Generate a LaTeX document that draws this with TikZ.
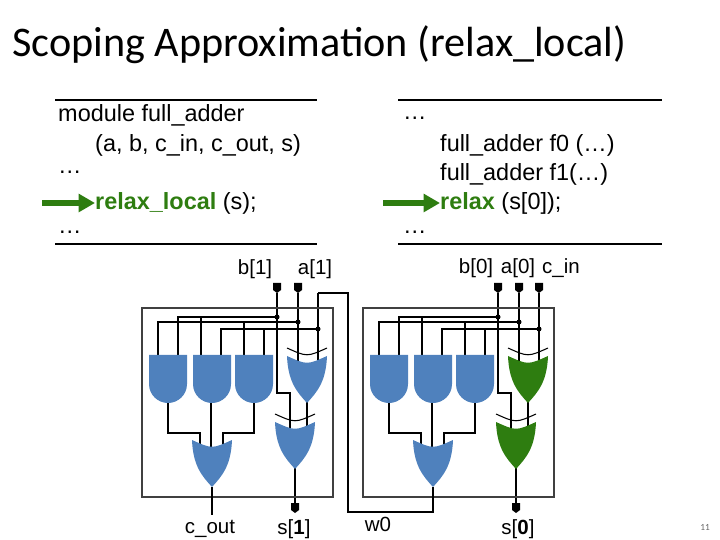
\documentclass[tikz,border=0pt]{standalone}
\usepackage{fontspec}
\setmainfont{Liberation Sans}
\newfontfamily\titlefont{Carlito}
\usetikzlibrary{arrows.meta}

\definecolor{gateblue}{RGB}{79,129,189}
\definecolor{gategreen}{RGB}{46,125,16}

% gate shapes, corner at (#1,#2), fill colour #3
\newcommand{\andgate}[3]{%
  \draw[gate, fill=#3] (#1,#2) -- ({#1+38},#2) -- ({#1+38},{#2+29})
    .. controls ({#1+38},{#2+40}) and ({#1+29},{#2+48}) .. ({#1+19},{#2+48})
    .. controls ({#1+9},{#2+48}) and (#1,{#2+40}) .. (#1,{#2+29}) -- cycle;}
\newcommand{\orgate}[3]{%
  \draw[gate, fill=#3] (#1,#2) .. controls ({#1+20},{#2+9}) .. ({#1+40},#2)
    .. controls ({#1+39},{#2+26}) and ({#1+30},{#2+36}) .. ({#1+20},{#2+47})
    .. controls ({#1+10},{#2+36}) and ({#1+1},{#2+26}) .. (#1,#2);}
\newcommand{\xorgate}[3]{%
  \orgate{#1}{#2}{#3}
  \draw[wire] (#1,{#2-8}) .. controls ({#1+20},{#2+1}) .. ({#1+40},{#2-8});}
\newcommand{\pin}[2]{%
  \fill ({#1-4},#2) -- ({#1+4},#2) -- ({#1+4},{#2+7}) -- (#1,{#2+10}) -- ({#1-4},{#2+7}) -- cycle;}

% one full adder, xor colour #1
\newcommand{\adder}[1]{%
  \draw[wire] (277,293) -- (277,393) -- (290,393) -- (290,432);
  \draw[wire] (298,293) -- (298,370);
  \draw[wire] (318,293) -- (318,370);
  \draw[wire] (307,400) -- (307,432);
  \draw[wire] (295,466) -- (295,503);
  \draw[wire] (277,317) -- (178,317) -- (178,360);
  \draw[wire] (298,322) -- (158,322) -- (158,360);
  \draw[wire] (318,329) -- (221,329) -- (221,360);
  \draw[wire] (201,317) -- (201,360);
  \draw[wire] (244,322) -- (244,360);
  \draw[wire] (264,329) -- (264,360);
  \fill (277,317) circle (2.5) (298,322) circle (2.5) (318,329) circle (2.5);
  \draw[wire] (168,400) -- (168,433) -- (200,433) -- (200,450);
  \draw[wire] (211,400) -- (211,450);
  \draw[wire] (254,400) -- (254,433) -- (223,433) -- (223,450);
  \andgate{149}{355}{gateblue}
  \andgate{193}{355}{gateblue}
  \andgate{235}{355}{gateblue}
  \orgate{192}{440}{gateblue}
  \xorgate{287}{356}{#1}
  \xorgate{275}{422}{#1}
  \draw[box] (142,308) rectangle (333,497);
  \pin{277}{283}
  \pin{298}{283}
  \pin{295}{503}}

\begin{document}
\begin{tikzpicture}[x=0.03cm, y=-0.03cm,
  gate/.style={draw=none},
  wire/.style={line width=0.9pt},
  box/.style={line width=2.2pt, draw=black!75},
  hline/.style={line width=2pt},
  code/.style={anchor=west, inner sep=0pt, font=\fontsize{20}{24}\selectfont},
  lbl/.style={inner sep=0pt, font=\fontsize{17.5}{20}\selectfont},
  pointer/.style={line width=5pt, draw=gategreen, -{Triangle[length=14pt,width=15pt]}}]
\useasboundingbox (0,0) rectangle (720,540);

\node[anchor=west, inner sep=0pt, font=\titlefont\fontsize{36}{42}\selectfont]
  (title) at (12,45) {Scoping Approximation (relax\_local)};

% code boxes
\draw[hline] (55,100) -- (317,100) (55,244) -- (317,244);
\draw[hline] (398,100) -- (662,100) (398,244) -- (662,244);
\node[code] (l1) at (58,115) {module full\_adder};
\node[code] (l2) at (95,145) {(a, b, c\_in, c\_out, s)};
\node[code] (l3) at (58,172) {\dots};
\node[code] (l4) at (95,203) {\textcolor{gategreen}{\textbf{relax\_local}} (s);};
\node[code] (l5) at (58,232) {\dots};
\node[code] (r1) at (403,118) {\dots};
\node[code] (r2) at (440,145) {full\_adder f0 (\dots)};
\node[code] (r3) at (440,174) {full\_adder f1(\dots)};
\node[code] (r4) at (440,203) {\textcolor{gategreen}{\textbf{relax}} (s[0]);};
\node[code] (r5) at (403,232) {\dots};
\coordinate (la) at (42,203);
\coordinate (ra) at (383,203);
\draw[pointer] (la) -- (l4.west);
\draw[pointer] (ra) -- (r4.west);

% circuits
\adder{gateblue}
\begin{scope}[shift={(221,0)}]
  \adder{gategreen}
  \pin{318}{283}
\end{scope}
\draw[wire] (212,487) -- (212,515);
\draw[wire] (318,293) -- (348,293) -- (348,512) -- (433,512) -- (433,487);

\node[lbl] (b1) at (255,269) {b[1]};
\node[lbl] (a1) at (315,269) {a[1]};
\node[lbl] (b0) at (476,268) {b[0]};
\node[lbl] (a0) at (518,268) {a[0]};
\node[lbl] (ci) at (561,268) {c\_in};
\node[lbl] (co) at (210,529) {c\_out};
\node[lbl] (s1) at (294,529) {s[\textbf{1}]};
\node[lbl] (w0) at (378,524) {w0};
\node[lbl] (s0) at (518,529) {s[\textbf{0}]};
\node[inner sep=0pt, text=black!60, font=\titlefont\fontsize{8}{9}\selectfont] (pg) at (705,527) {11};
\end{tikzpicture}
\end{document}
